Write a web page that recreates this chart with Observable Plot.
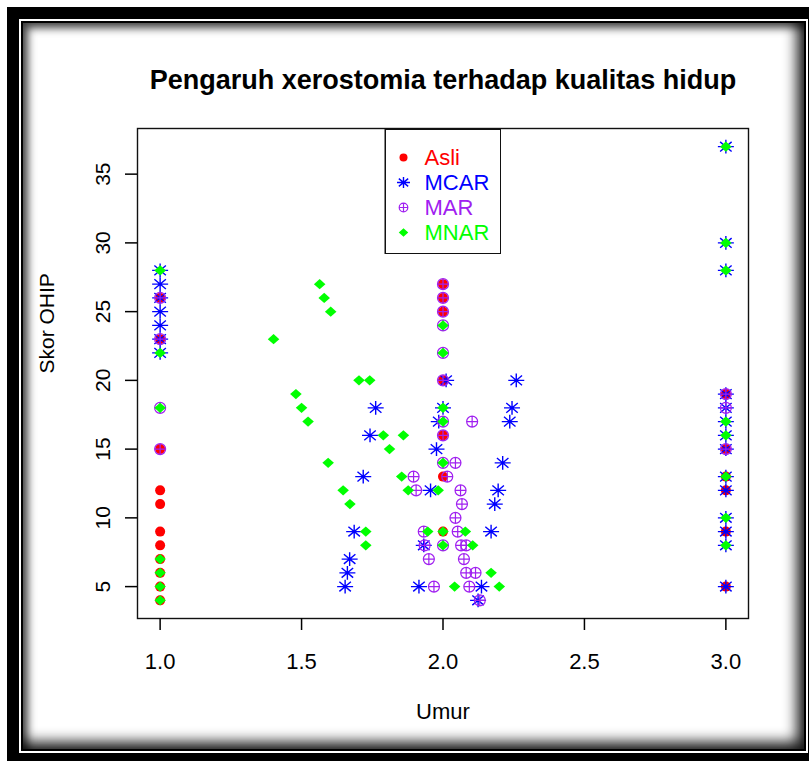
<!DOCTYPE html>
<html><head><meta charset="utf-8">
<script src="https://cdn.jsdelivr.net/npm/d3@7"></script>
<script src="https://cdn.jsdelivr.net/npm/@observablehq/plot@0.6"></script>
<style>
html,body{margin:0;padding:0;background:#fff;overflow:hidden;width:809px;height:761px;}
#outer{position:absolute;left:7px;top:7px;width:802px;height:754px;background:#000;}
#wline{position:absolute;left:19px;top:19px;width:789px;height:734px;border:2px solid #fff;box-sizing:border-box;}
#panel{position:absolute;left:23px;top:23px;width:781px;height:726px;background:#fff;
  box-shadow: inset 5px 5px 9px rgba(0,0,0,0.7), inset -7px -7px 14px rgba(0,0,0,0.9);}
#chart{position:absolute;left:0;top:0;}
#legend{position:absolute;left:384px;top:128px;}
</style>
</head><body>
<div id="outer"></div><div id="wline"></div><div id="panel"></div>
<div id="chart"></div><div id="legend"></div>
<script>
const titleText = "Pengaruh xerostomia terhadap kualitas hidup";
const xLabel = "Umur";
const yLabel = "Skor OHIP";
const xTicks = [1.0, 1.5, 2.0, 2.5, 3.0];
const yTicks = [5, 10, 15, 20, 25, 30, 35];
const seriesNames = ["Asli", "MCAR", "MAR", "MNAR"];
const seriesColors = ["#FF0000", "#0000FF", "#A020F0", "#00FF00"];

// Asli (original)
const asliX = [1,1,1,1,1,1,1,1,1,1,1, 2,2,2,2,2,2,2, 3,3,3,3,3,3];
const asliY = [4,5,6,7,8,9,11,12,15,23,26, 9,13,16,20,25,26,27, 5,9,12,13,15,19];

// MCAR
const mcarX = [1,1,1,1,1,1,1,
  3,3,3,3,3,3,3,3,3,3,3,3,3,3,
  1.654,1.662,1.670,1.686,1.718,1.742,1.762,1.915,1.932,1.956,1.977,1.985,2.000,2.011,
  2.124,2.136,2.170,2.183,2.195,2.211,2.236,2.244,2.259];
const mcarY = [22,23,24,25,26,27,28,
  5,8,9,10,12,13,15,16,17,18,19,28,30,37,
  5,6,7,9,13,16,18,5,8,12,15,17,18,20,
  4,5,9,11,12,14,17,18,20];

// MAR
const marX = [1,1,1,1,
  2,2,2,2,2,2,2,2,2,2,
  3,3,3,
  1.896,1.905,1.932,1.935,1.950,1.968,2.015,2.044,2.044,2.052,
  2.062,2.064,2.082,2.067,2.074,2.082,2.115,2.093,2.130,2.103];
const marY = [15,18,23,26,
  8,14,16,17,20,22,24,25,26,27,
  15,18,19,
  13,12,9,8,7,5,13,14,10,9,
  12,8,8,11,7,6,6,5,4,17];

// MNAR
const mnarX = [1,1,1,1,1,1,1,
  2,2,2,2,2,2,2,
  3,3,3,3,3,3,3,3,
  1.401,1.480,1.500,1.523,1.564,1.580,1.594,1.603,1.647,1.671,1.703,1.727,1.727,
  1.741,1.789,1.811,1.854,1.860,1.877,1.946,1.983,2.041,2.079,2.105,2.170,2.199];
const mnarY = [4,5,6,7,18,22,28,
  8,9,14,17,18,22,24,
  8,10,13,16,17,28,30,37,
  23,19,18,17,27,26,14,25,12,11,20,9,8,
  20,16,15,13,16,12,9,12,5,9,8,6,5];

const toRows = (xs, ys) => xs.map((x, i) => ({x, y: ys[i]}));
const asli = toRows(asliX, asliY);
const mcar = toRows(mcarX, mcarY);
const mar = toRows(marX, marY);
const mnar = toRows(mnarX, mnarY);

// R-like plotting symbols
const symAsterisk = {draw(c, size) { const r = Math.sqrt(size / Math.PI);
  const a = r, b = r * 0.85, dx = r * 0.72, dy = r * 0.6;
  c.moveTo(-a, 0); c.lineTo(a, 0); c.moveTo(0, -b); c.lineTo(0, b);
  c.moveTo(-dx, -dy); c.lineTo(dx, dy); c.moveTo(-dx, dy); c.lineTo(dx, -dy); }};
const symCirclePlus = {draw(c, size) { const r = Math.sqrt(size / Math.PI);
  c.moveTo(r, 0); c.arc(0, 0, r, 0, 2 * Math.PI);
  c.moveTo(-r, 0); c.lineTo(r, 0); c.moveTo(0, -r); c.lineTo(0, r); }};
const symDiamond = {draw(c, size) { const r = Math.sqrt(size / Math.PI);
  const h = r * 1.05, v = r * 0.92;
  c.moveTo(0, -v); c.lineTo(h, 0); c.lineTo(0, v); c.lineTo(-h, 0); c.closePath(); }};
const symDisc = {draw(c, size) { const r = Math.sqrt(size / Math.PI);
  c.moveTo(r, 0); c.arc(0, 0, r, 0, 2 * Math.PI); c.closePath(); }};

const symbols = [symDisc, symAsterisk, symCirclePlus, symDiamond];
const radii = [5, 8, 5.5, 5.5];
const legendRadii = [4, 6.5, 4.3, 4.5];
function dotOpts(i, extra, rr = radii) {
  const o = {symbol: symbols[i], r: rr[i], ...extra};
  if (i === 0 || i === 3) { o.fill = seriesColors[i]; o.stroke = "none"; }
  else { o.fill = "none"; o.stroke = seriesColors[i]; o.strokeWidth = i === 1 ? 1.4 : 1.2; }
  return o;
}

const font = "'Liberation Sans', Arial, Helvetica, sans-serif";
const chart = Plot.plot({
  width: 809, height: 761,
  marginLeft: 137, marginRight: 61, marginTop: 128, marginBottom: 143,
  style: {background: "transparent", fontFamily: font, fontSize: "22px", color: "#000"},
  x: {domain: [0.92, 3.08]},
  y: {domain: [2.68, 38.32]},
  marks: [
    Plot.frame({stroke: "#111", strokeWidth: 1.4}),
    Plot.axisX({ticks: xTicks, tickFormat: d3.format(".1f"), tickSize: 12, tickPadding: 23,
      strokeWidth: 1.5, fontSize: 22, label: null}),
    Plot.axisY({ticks: yTicks, tickSize: 12, tickPadding: 16, tickRotate: -90,
      strokeWidth: 1.5, fontSize: 21, label: null}),
    Plot.dot(asli, dotOpts(0, {x: "x", y: "y"})),
    Plot.dot(mcar, dotOpts(1, {x: "x", y: "y"})),
    Plot.dot(mar, dotOpts(2, {x: "x", y: "y"})),
    Plot.dot(mnar, dotOpts(3, {x: "x", y: "y"})),
    Plot.text([titleText], {text: d => d, frameAnchor: "top", dy: -40, lineAnchor: "bottom",
      fontSize: 27, fontWeight: "bold"}),
    Plot.text([xLabel], {text: d => d, frameAnchor: "bottom", dy: 93, lineAnchor: "middle", fontSize: 22}),
    Plot.text([yLabel], {text: d => d, frameAnchor: "left", dx: -90, rotate: -90, lineAnchor: "middle", fontSize: 21})
  ]
});
document.getElementById("chart").append(chart);

const legend = Plot.plot({
  width: 117, height: 126, margin: 0,
  style: {background: "transparent", fontFamily: font, fontSize: "22px"},
  x: {domain: [0, 1], axis: null},
  y: {type: "point", domain: seriesNames, range: [28, 104], padding: 0, axis: null},
  color: {type: "identity"},
  marks: [
    Plot.frame({inset: 0.75, stroke: "#111", strokeWidth: 1.5, fill: "#fff"}),
    ...seriesNames.map((n, i) => Plot.dot([n], dotOpts(i, {y: d => d, frameAnchor: "left", dx: 19}, legendRadii))),
    Plot.text(seriesNames, {y: d => d, text: d => d, frameAnchor: "left", dx: 40, textAnchor: "start",
      fill: d => seriesColors[seriesNames.indexOf(d)], fontSize: 22})
  ]
});
document.getElementById("legend").append(legend);
</script>
</body></html>
